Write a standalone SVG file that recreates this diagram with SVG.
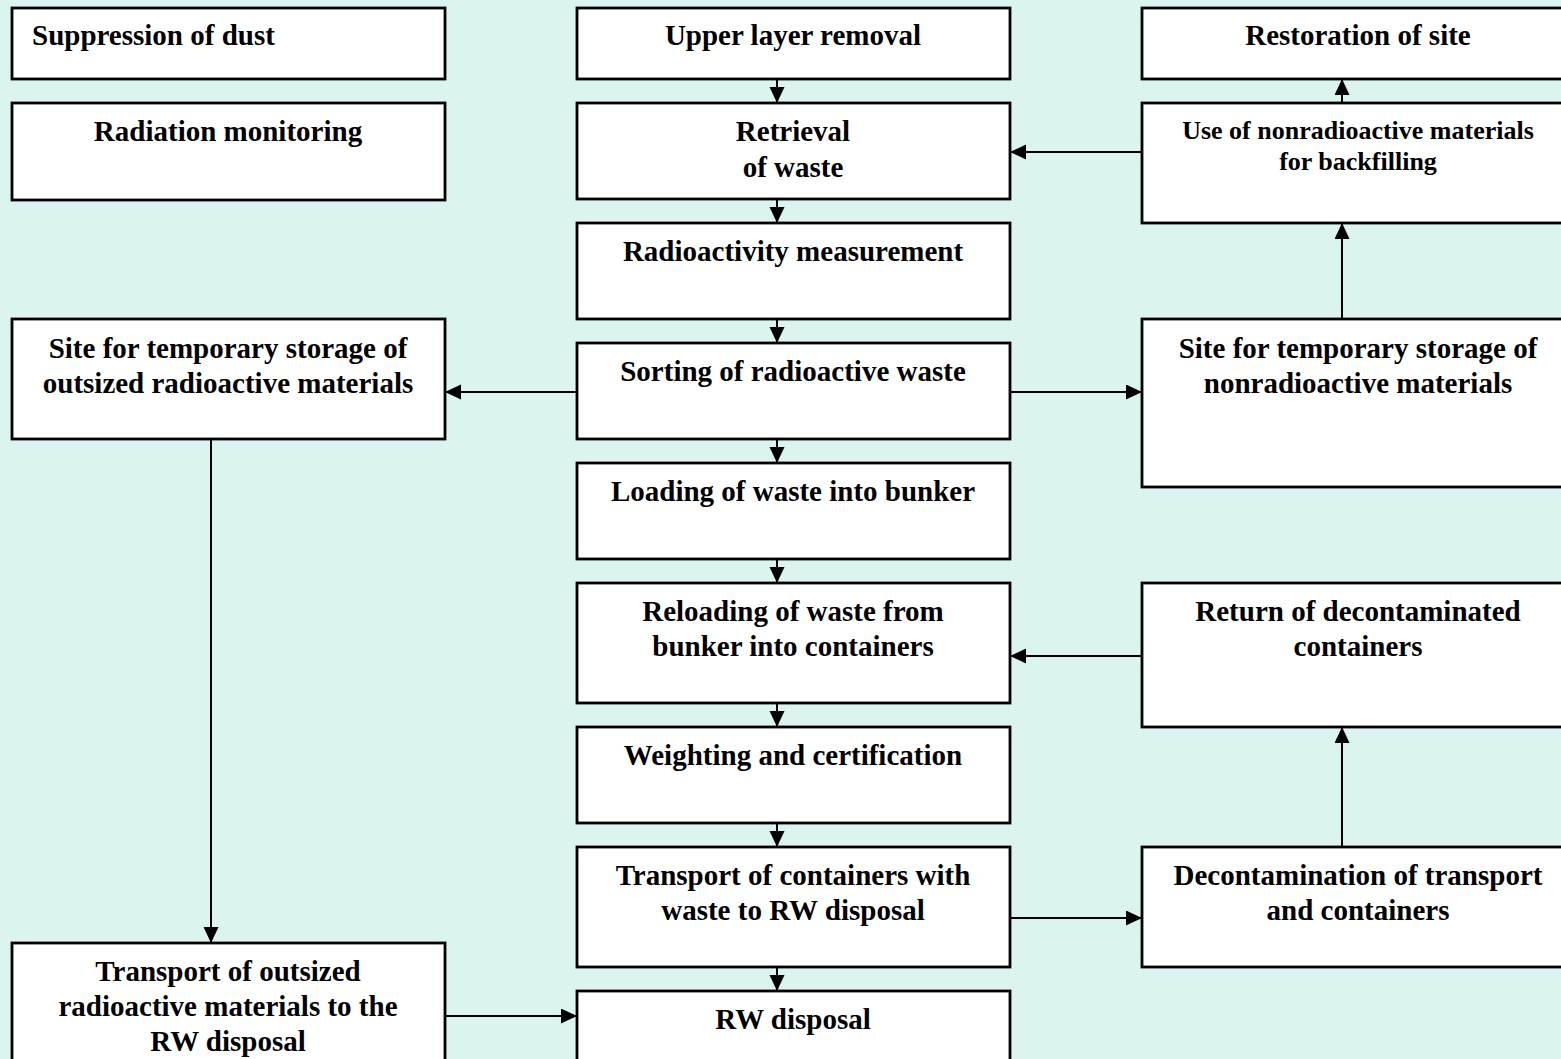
<svg xmlns="http://www.w3.org/2000/svg" width="1561" height="1059" viewBox="0 0 1561 1059">
<style>
.box{fill:#ffffff;stroke:#000000;stroke-width:2.8}
.t{font-family:"Liberation Serif","Times New Roman",serif;font-weight:bold;font-size:29px;fill:#000000;text-anchor:middle}
.s{font-size:26px}
.l{text-anchor:start}
.c{stroke:#000000;stroke-width:2;fill:none;marker-end:url(#ah)}
</style>
<defs>
<marker id="ah" markerWidth="18" markerHeight="16" refX="16" refY="7.5" orient="auto" markerUnits="userSpaceOnUse">
<path d="M0,0 L16,7.5 L0,15 Z" fill="#000000"/>
</marker>
</defs>
<rect x="0" y="0" width="1561" height="1059" fill="#DCF4F0"/>

<g id="connectors">
<line class="c" x1="777" y1="79" x2="777" y2="103"/>
<line class="c" x1="777" y1="199" x2="777" y2="223"/>
<line class="c" x1="777" y1="319" x2="777" y2="343"/>
<line class="c" x1="777" y1="439" x2="777" y2="463"/>
<line class="c" x1="777" y1="559" x2="777" y2="583"/>
<line class="c" x1="777" y1="703" x2="777" y2="727"/>
<line class="c" x1="777" y1="823" x2="777" y2="847"/>
<line class="c" x1="777" y1="967" x2="777" y2="991"/>
<line class="c" x1="1142" y1="152" x2="1010" y2="152"/>
<line class="c" x1="577" y1="392" x2="445" y2="392"/>
<line class="c" x1="1010" y1="392" x2="1142" y2="392"/>
<line class="c" x1="1142" y1="656" x2="1010" y2="656"/>
<line class="c" x1="1010" y1="918" x2="1142" y2="918"/>
<line class="c" x1="445" y1="1016" x2="577" y2="1016"/>
<line class="c" x1="211" y1="439" x2="211" y2="943"/>
<line class="c" x1="1342" y1="103" x2="1342" y2="79"/>
<line class="c" x1="1342" y1="319" x2="1342" y2="223"/>
<line class="c" x1="1342" y1="847" x2="1342" y2="727"/>
</g>

<g id="suppression">
<rect class="box" x="12" y="8" width="433" height="71"/>
<text class="t l" x="32" y="45">Suppression of dust</text>
</g>
<g id="radiation-monitoring">
<rect class="box" x="12" y="103" width="433" height="97"/>
<text class="t" x="228" y="141">Radiation monitoring</text>
</g>
<g id="site-outsized">
<rect class="box" x="12" y="319" width="433" height="120"/>
<text class="t" x="228" y="358">Site for temporary storage of</text>
<text class="t" x="228" y="393">outsized radioactive materials</text>
</g>
<g id="transport-outsized">
<rect class="box" x="12" y="943" width="433" height="130"/>
<text class="t" x="228" y="981">Transport of outsized</text>
<text class="t" x="228" y="1016">radioactive materials to the</text>
<text class="t" x="228" y="1051">RW disposal</text>
</g>

<g id="upper-layer">
<rect class="box" x="577" y="8" width="433" height="71"/>
<text class="t" x="793" y="45">Upper layer removal</text>
</g>
<g id="retrieval">
<rect class="box" x="577" y="103" width="433" height="96"/>
<text class="t" x="793" y="141">Retrieval</text>
<text class="t" x="793" y="177">of waste</text>
</g>
<g id="radioactivity">
<rect class="box" x="577" y="223" width="433" height="96"/>
<text class="t" x="793" y="261">Radioactivity measurement</text>
</g>
<g id="sorting">
<rect class="box" x="577" y="343" width="433" height="96"/>
<text class="t" x="793" y="381">Sorting of radioactive waste</text>
</g>
<g id="loading">
<rect class="box" x="577" y="463" width="433" height="96"/>
<text class="t" x="793" y="501">Loading of waste into bunker</text>
</g>
<g id="reloading">
<rect class="box" x="577" y="583" width="433" height="120"/>
<text class="t" x="793" y="621">Reloading of waste from</text>
<text class="t" x="793" y="656">bunker into containers</text>
</g>
<g id="weighting">
<rect class="box" x="577" y="727" width="433" height="96"/>
<text class="t" x="793" y="765">Weighting and certification</text>
</g>
<g id="transport-containers">
<rect class="box" x="577" y="847" width="433" height="120"/>
<text class="t" x="793" y="885">Transport of containers with</text>
<text class="t" x="793" y="920">waste to RW disposal</text>
</g>
<g id="rw-disposal">
<rect class="box" x="577" y="991" width="433" height="90"/>
<text class="t" x="793" y="1029">RW disposal</text>
</g>

<g id="restoration">
<rect class="box" x="1142" y="8" width="440" height="71"/>
<text class="t" x="1358" y="45">Restoration of site</text>
</g>
<g id="use-nonradioactive">
<rect class="box" x="1142" y="103" width="440" height="120"/>
<text class="t s" x="1358" y="139">Use of nonradioactive materials</text>
<text class="t s" x="1358" y="170">for backfilling</text>
</g>
<g id="site-nonradioactive">
<rect class="box" x="1142" y="319" width="440" height="168"/>
<text class="t" x="1358" y="358">Site for temporary storage of</text>
<text class="t" x="1358" y="393">nonradioactive materials</text>
</g>
<g id="return-containers">
<rect class="box" x="1142" y="583" width="440" height="144"/>
<text class="t" x="1358" y="621">Return of decontaminated</text>
<text class="t" x="1358" y="656">containers</text>
</g>
<g id="decontamination">
<rect class="box" x="1142" y="847" width="440" height="120"/>
<text class="t" x="1358" y="885">Decontamination of transport</text>
<text class="t" x="1358" y="920">and containers</text>
</g>
</svg>
